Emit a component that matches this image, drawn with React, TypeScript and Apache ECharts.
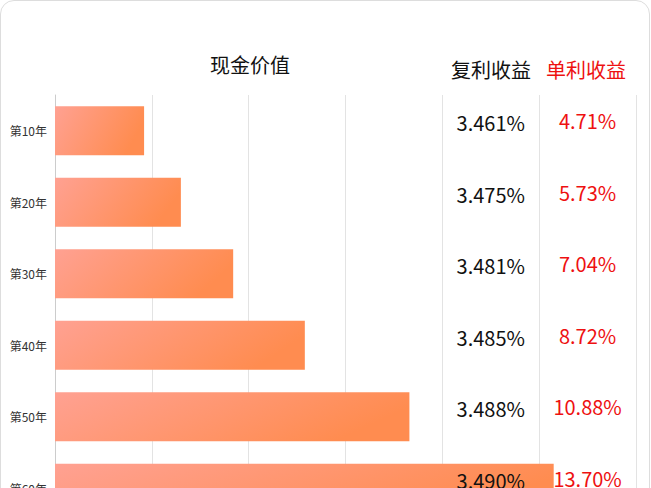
import React, { useEffect, useRef } from "react";
import * as echarts from "echarts";

const categories = ["第10年", "第20年", "第30年", "第40年", "第50年", "第60年"];
const cashValues = [92, 130, 184, 258, 366, 515];
const compoundRates = ["3.461", "3.475", "3.481", "3.485", "3.488", "3.490"];
const simpleRates = ["4.71", "5.73", "7.04", "8.72", "10.88", "13.70"];
const axisMax = 600;
const axisInterval = 100;
const compoundColumn = 450;
const simpleColumn = 550;

const FONT = '"Noto Sans CJK SC", "Noto Sans", sans-serif';

export default function App() {
  const ref = useRef<HTMLDivElement>(null);
  useEffect(() => {
    if (!ref.current) return;
    const chart = echarts.init(ref.current, undefined, { renderer: "svg" });
    chart.setOption({
      animation: false,
      textStyle: { fontFamily: FONT },
      grid: { left: 55, right: 15, top: 95, bottom: 16 },
      graphic: [
        {
          type: "text",
          x: 250,
          y: 64,
          style: { text: "现金价值", font: `20px ${FONT}`, fill: "#111", textAlign: "center", textVerticalAlign: "middle" },
        },
        {
          type: "text",
          x: 491,
          y: 69,
          style: { text: "复利收益", font: `20px ${FONT}`, fill: "#111", textAlign: "center", textVerticalAlign: "middle" },
        },
        {
          type: "text",
          x: 586,
          y: 69,
          style: { text: "单利收益", font: `20px ${FONT}`, fill: "#ee1111", textAlign: "center", textVerticalAlign: "middle" },
        },
      ],
      xAxis: {
        type: "value",
        min: 0,
        max: axisMax,
        interval: axisInterval,
        axisLabel: { show: false },
        axisLine: { show: false },
        axisTick: { show: false },
        splitLine: { lineStyle: { color: "#e3e3e3", width: 1 } },
      },
      yAxis: {
        type: "category",
        inverse: true,
        data: categories,
        axisLine: { lineStyle: { color: "#cccccc" } },
        axisTick: { length: 4, lineStyle: { color: "#cccccc" } },
        axisLabel: { fontSize: 12, color: "#333", margin: 8, fontFamily: FONT },
      },
      series: [
        {
          type: "bar",
          data: cashValues,
          barWidth: 49,
          itemStyle: {
            color: new echarts.graphic.LinearGradient(0, 0, 1, 0.3, [
              { offset: 0, color: "#ffa192" },
              { offset: 1, color: "#ff8c50" },
            ]),
          },
          z: 2,
        },
        {
          type: "scatter",
          data: compoundRates.map((v, i) => [compoundColumn, i]),
          symbolSize: 1,
          itemStyle: { color: "rgba(0,0,0,0)", opacity: 1 },
          label: {
            show: true,
            position: "inside",
            offset: [0, -8],
            fontSize: 20,
            color: "#111",
            fontFamily: FONT,
            formatter: (p: any) => compoundRates[p.dataIndex] + "%",
          },
          z: 5,
        },
        {
          type: "scatter",
          data: simpleRates.map((v, i) => [simpleColumn, i]),
          symbolSize: 1,
          itemStyle: { color: "rgba(0,0,0,0)", opacity: 1 },
          label: {
            show: true,
            position: "inside",
            offset: [0, -10],
            fontSize: 20,
            color: "#ee1111",
            fontFamily: FONT,
            formatter: (p: any) => simpleRates[p.dataIndex] + "%",
          },
          z: 5,
        },
      ],
    });
    return () => chart.dispose();
  }, []);
  return (
    <div
      style={{
        position: "fixed",
        left: 0,
        top: 0,
        width: 651,
        height: 560,
        background: "#fff",
      }}
    >
      <div
        style={{
          position: "absolute",
          left: 0,
          top: 0,
          width: 648,
          height: 556,
          border: "1px solid #dddddd",
          borderRadius: 14,
          boxSizing: "content-box",
        }}
      />
      <div ref={ref} style={{ position: "absolute", left: 0, top: 0, width: 651, height: 540 }} />
    </div>
  );
}
